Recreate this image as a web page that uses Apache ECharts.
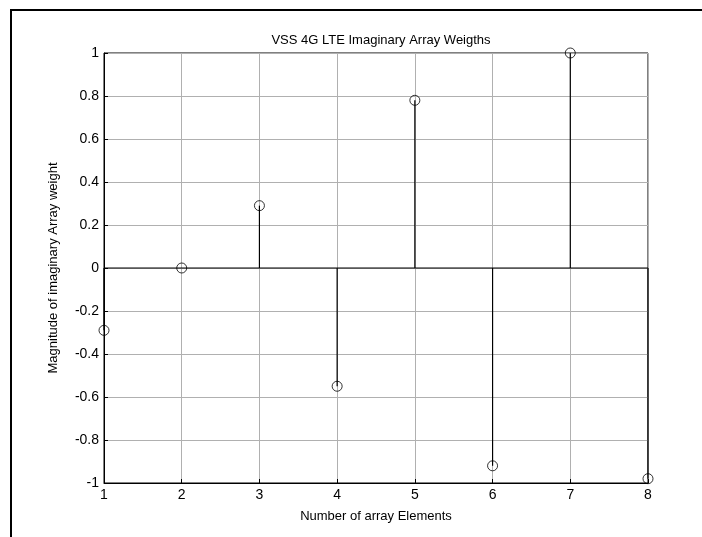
<!DOCTYPE html>
<html><head><meta charset="utf-8">
<script src="https://cdn.jsdelivr.net/npm/echarts@6/dist/echarts.min.js"></script>
<style>html,body{margin:0;padding:0;background:#fff}#c{width:702px;height:537px}</style>
</head><body><div id="c"></div>
<script>
var elements = [1, 2, 3, 4, 5, 6, 7, 8];
var weights = [-0.29, 0, 0.29, -0.55, 0.78, -0.92, 1.0, -0.98];
var yTicks = [-1, -0.8, -0.6, -0.4, -0.2, 0, 0.2, 0.4, 0.6, 0.8, 1];

var pts = elements.map(function (x, i) { return [x, weights[i]]; });
var font = 'Liberation Sans, Arial, sans-serif';
var chart = echarts.init(document.getElementById('c'));
chart.setOption({
  animation: false,
  backgroundColor: '#fff',
  title: {
    text: 'VSS 4G LTE Imaginary Array Weigths', left: 376, top: 29, textAlign: 'center',
    textStyle: { fontFamily: font, fontSize: 13, fontWeight: 'normal', color: '#000' }
  },
  graphic: [{
    type: 'polyline', shape: { points: [[11, 540], [11, 10], [705, 10]] },
    style: { stroke: '#000', lineWidth: 2, fill: null }
  }],
  grid: { left: 104, right: 54, top: 53, bottom: 54, show: true, borderColor: '#000', borderWidth: 1 },
  xAxis: {
    type: 'value', min: 1, max: 8, interval: 1,
    name: 'Number of array Elements', nameLocation: 'middle', nameGap: 27,
    nameTextStyle: { fontFamily: font, fontSize: 13, color: '#000' },
    axisLine: { lineStyle: { color: '#000' }, onZero: false },
    axisTick: { inside: true, length: 4, lineStyle: { color: '#000' } },
    axisLabel: { fontFamily: font, fontSize: 14, color: '#000', margin: 5 },
    splitLine: { show: true, lineStyle: { color: '#b0b0b0', width: 1 } }
  },
  yAxis: {
    type: 'value', min: -1, max: 1, interval: 0.2,
    name: 'Magnitude of imaginary Array weight', nameLocation: 'middle', nameGap: 44,
    nameTextStyle: { fontFamily: font, fontSize: 13, color: '#000' },
    axisLine: { lineStyle: { color: '#000' }, onZero: false },
    axisTick: { inside: true, length: 4, lineStyle: { color: '#000' } },
    axisLabel: {
      fontFamily: font, fontSize: 14, color: '#000', margin: 5,
      formatter: function (v) { var r = Math.round(v * 10) / 10; return String(r); }
    },
    splitLine: { show: true, lineStyle: { color: '#b0b0b0', width: 1 } }
  },
  series: [
    {
      type: 'line', data: [[elements[0], 0], [elements[elements.length - 1], 0]],
      symbol: 'none', lineStyle: { color: '#000', width: 1.2 }, z: 3
    },
    {
      type: 'custom', data: pts, z: 4,
      renderItem: function (params, api) {
        var p0 = api.coord([api.value(0), 0]);
        var p1 = api.coord([api.value(0), api.value(1)]);
        return { type: 'line', shape: { x1: p0[0], y1: p0[1], x2: p1[0], y2: p1[1] },
                 style: { stroke: '#000', lineWidth: 1.2 } };
      }
    },
    {
      type: 'scatter', data: pts, symbol: 'circle', symbolSize: 10, z: 5,
      itemStyle: { color: 'rgba(0,0,0,0)', borderColor: '#000', borderWidth: 1 }
    }
  ]
});
</script></body></html>
